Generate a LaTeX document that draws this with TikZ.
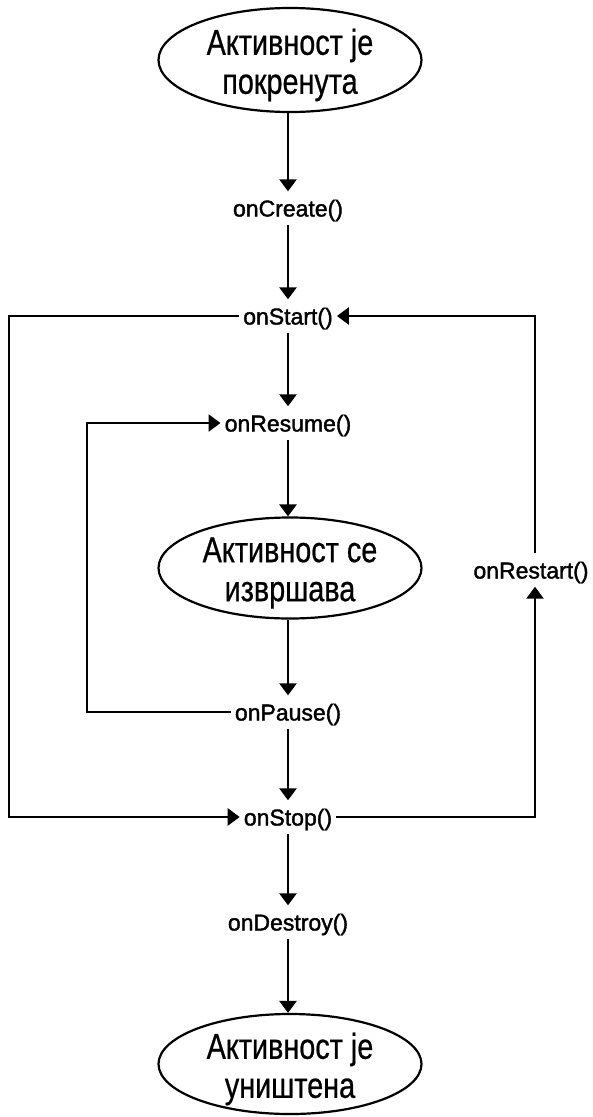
\documentclass[tikz,border=0pt]{standalone}
\usepackage{fontspec}
\setmainfont{Liberation Sans}
\newfontfamily\ellfont[FakeStretch=0.8,FakeBold=0.6]{Liberation Sans}
\newfontfamily\lblfont[FakeBold=1.6]{Liberation Sans}
\usetikzlibrary{shapes.geometric,arrows.meta}
\begin{document}
\begin{tikzpicture}[x=1pt,y=-1pt,
  statebox/.style={ellipse,draw,line width=2.2pt,minimum width=263pt,minimum height=104pt,
    inner sep=0pt},
  stxt/.style={inner sep=0pt,align=center,font=\ellfont\fontsize{36}{39}\selectfont},
  lbl/.style={inner xsep=4pt,inner ysep=0pt,text height=25pt,text depth=8pt,
    font=\lblfont\fontsize{23}{26}\selectfont},
  conn/.style={line width=2.7pt},
  arr/.style={conn,-{Triangle[length=12pt,width=17pt]}}]
\useasboundingbox[fill=white] (0,0) rectangle (592,1117);
\node[statebox] (e1) at (290,60) {};
\node[stxt] (e1t) at (290,65) {Активност је\\покренута};
\node[lbl] (create) at (288,208) {onCreate()};
\node[lbl] (start) at (288,316) {onStart()};
\node[lbl] (resume) at (288,423) {onResume()};
\node[statebox,minimum height=101pt] (e2) at (290,568) {};
\node[stxt] (e2t) at (290,573) {Активност се\\извршава};
\node[lbl] (pause) at (288,712) {onPause()};
\node[lbl] (stop) at (288,817) {onStop()};
\node[lbl] (destroy) at (288,922) {onDestroy()};
\node[statebox,minimum height=100pt] (e3) at (290,1064) {};
\node[stxt] (e3t) at (290,1069) {Активност је\\уништена};
\node[lbl] (restart) at (531,570) {onRestart()};
\coordinate (oa) at (9,316);
\coordinate (ob) at (9,817);
\coordinate (ia) at (87,423);
\coordinate (ib) at (87,712);
\coordinate (ra) at (535,817);
\coordinate (rb) at (535,316);
\draw[arr] (e1.south -| create) -- (create);
\draw[arr] (create) -- (start);
\draw[arr] (start) -- (resume);
\draw[arr] (resume) -- (resume |- e2.north);
\draw[arr] (pause |- e2.south) -- (pause);
\draw[arr] (pause) -- (stop);
\draw[arr] (stop) -- (destroy);
\draw[arr] (destroy) -- (destroy |- e3.north);
\draw[arr] (start.west) -- (oa) -- (ob) -- (stop.west);
\draw[arr] (pause.west) -- (ib) -- (ia) -- (resume.west);
\draw[arr] (stop.east) -- (ra) -- (ra |- restart.south);
\draw[arr] (ra |- restart.north) -- (rb) -- (start.east);
\end{tikzpicture}
\end{document}
